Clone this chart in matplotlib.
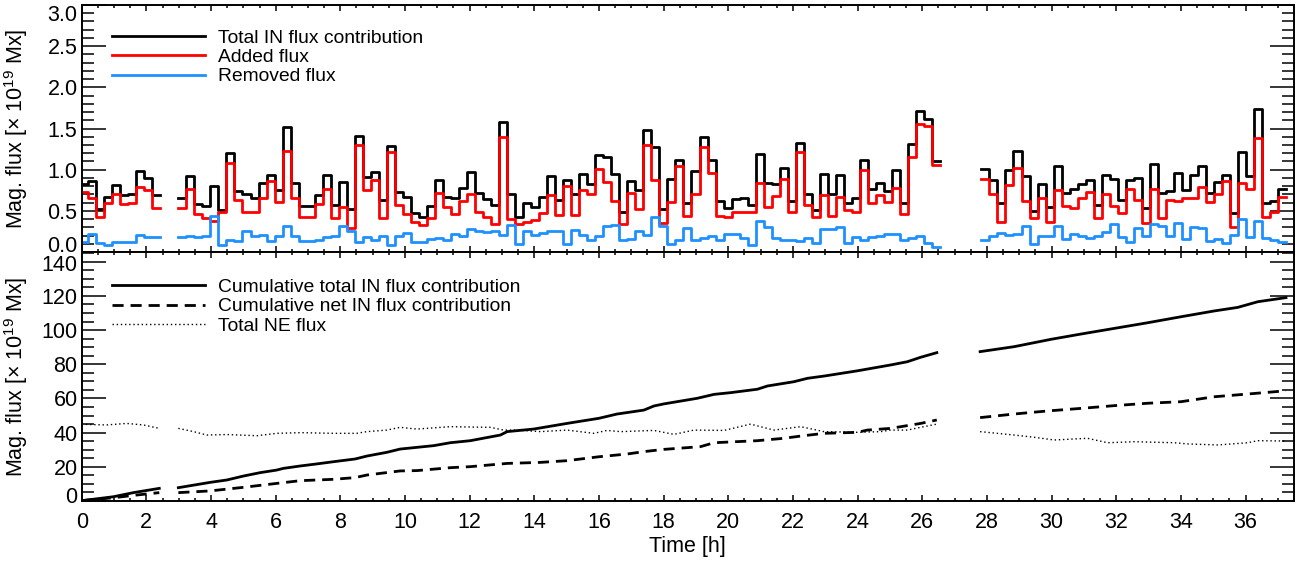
import numpy as np
import matplotlib.pyplot as plt
from matplotlib.ticker import MultipleLocator
from matplotlib.transforms import ScaledTranslation

plt.rcParams['font.family'] = ['Liberation Sans', 'DejaVu Sans']
plt.rcParams['mathtext.fontset'] = 'custom'
plt.rcParams['mathtext.rm'] = 'Liberation Sans'
plt.rcParams['mathtext.it'] = 'Liberation Sans'

# ---- top panel: flux per time bin (x 1e19 Mx), three observing segments ----
dt = 0.248                      # bin width [h]
seg_start = [-0.06, 2.99, 27.83]

total_1 = [0.83, 0.86, 0.52, 0.67, 0.81, 0.69, 0.71, 0.98, 0.90, 0.69]
added_1 = [0.73, 0.66, 0.42, 0.59, 0.71, 0.58, 0.59, 0.79, 0.75, 0.53]
removed_1 = [0.12, 0.22, 0.11, 0.09, 0.12, 0.12, 0.12, 0.21, 0.18, 0.18]

total_2 = [0.66, 0.92, 0.58, 0.56, 0.80, 0.51, 1.20, 0.74, 0.70, 0.65, 0.84, 0.94, 0.75, 1.52,
           0.84, 0.56, 0.56, 0.69, 0.93, 0.57, 0.85, 0.52, 1.41, 0.91, 0.97, 0.63, 1.29, 0.73,
           0.67, 0.47, 0.43, 0.56, 0.88, 0.67, 0.66, 0.78, 0.97, 0.72, 0.64, 0.57, 1.58, 0.71,
           0.43, 0.60, 0.55, 0.67, 0.92, 0.63, 0.88, 0.70, 0.95, 0.83, 1.18, 1.15, 0.95, 0.48,
           0.86, 0.75, 1.48, 1.27, 0.52, 0.89, 1.12, 0.59, 0.98, 1.40, 1.12, 0.62, 0.54, 0.64,
           0.65, 0.57, 1.19, 0.84, 0.83, 1.02, 0.62, 1.32, 0.71, 0.51, 0.95, 0.70, 0.94, 0.60,
           0.65, 1.12, 0.76, 0.84, 0.74, 0.99, 0.60, 1.31, 1.71, 1.61, 1.11]
added_2 = [0.53, 0.77, 0.46, 0.41, 0.38, 0.49, 1.08, 0.63, 0.48, 0.49, 0.65, 0.86, 0.61, 1.23,
           0.65, 0.43, 0.43, 0.58, 0.77, 0.41, 0.55, 0.29, 1.30, 0.75, 0.87, 0.41, 1.21, 0.57,
           0.46, 0.36, 0.33, 0.41, 0.72, 0.55, 0.46, 0.62, 0.71, 0.48, 0.43, 0.34, 1.40, 0.40,
           0.34, 0.36, 0.39, 0.47, 0.69, 0.45, 0.80, 0.45, 0.75, 0.70, 1.01, 0.85, 0.62, 0.34,
           0.72, 0.52, 1.30, 0.88, 0.35, 0.61, 1.04, 0.44, 0.71, 1.28, 0.96, 0.44, 0.42, 0.48,
           0.48, 0.49, 0.84, 0.55, 0.68, 0.89, 0.49, 1.21, 0.57, 0.42, 0.69, 0.44, 0.67, 0.51,
           0.49, 1.00, 0.59, 0.69, 0.61, 0.78, 0.46, 1.15, 1.55, 1.53, 1.06]
removed_2 = [0.18, 0.19, 0.18, 0.20, 0.44, 0.09, 0.14, 0.13, 0.26, 0.20, 0.21, 0.13, 0.20, 0.31,
             0.19, 0.13, 0.13, 0.15, 0.18, 0.20, 0.32, 0.25, 0.12, 0.18, 0.15, 0.19, 0.09, 0.20,
             0.23, 0.12, 0.12, 0.16, 0.17, 0.14, 0.22, 0.19, 0.28, 0.26, 0.24, 0.25, 0.21, 0.33,
             0.10, 0.26, 0.21, 0.23, 0.25, 0.25, 0.10, 0.27, 0.21, 0.15, 0.19, 0.32, 0.33, 0.15,
             0.16, 0.25, 0.21, 0.42, 0.31, 0.10, 0.15, 0.29, 0.14, 0.17, 0.19, 0.14, 0.22, 0.22,
             0.17, 0.09, 0.38, 0.30, 0.17, 0.15, 0.15, 0.13, 0.17, 0.11, 0.28, 0.28, 0.30, 0.11,
             0.18, 0.14, 0.18, 0.19, 0.22, 0.22, 0.15, 0.17, 0.19, 0.11, 0.06]

total_3 = [1.01, 0.88, 0.59, 1.00, 1.23, 0.92, 0.50, 0.82, 0.55, 1.04, 0.72, 0.76, 0.83, 0.88,
           0.57, 0.94, 0.89, 0.63, 0.87, 0.90, 0.54, 1.07, 0.72, 0.74, 0.96, 0.75, 0.94, 1.05,
           0.72, 0.85, 0.94, 0.47, 1.22, 0.92, 1.74, 0.59, 0.62, 0.77]
added_3 = [0.89, 0.71, 0.37, 0.81, 1.02, 0.62, 0.41, 0.65, 0.37, 0.75, 0.56, 0.54, 0.66, 0.73,
           0.41, 0.71, 0.56, 0.47, 0.76, 0.63, 0.35, 0.76, 0.41, 0.63, 0.62, 0.65, 0.66, 0.79,
           0.61, 0.70, 0.86, 0.30, 0.84, 0.76, 1.38, 0.43, 0.49, 0.67]
removed_3 = [0.14, 0.19, 0.23, 0.21, 0.22, 0.32, 0.10, 0.19, 0.19, 0.32, 0.16, 0.22, 0.19, 0.17,
             0.19, 0.24, 0.34, 0.18, 0.12, 0.29, 0.20, 0.34, 0.32, 0.20, 0.35, 0.16, 0.30, 0.29,
             0.13, 0.16, 0.11, 0.21, 0.40, 0.18, 0.38, 0.17, 0.14, 0.12]

# ---- bottom panel: cumulative curves (x 1e19 Mx), read at sample times [h] ----
cum_total_t = [[0.0, 0.98, 1.60, 2.40],
               [2.99, 3.97, 4.49, 5.00, 5.52, 6.03, 6.24, 6.76, 7.27, 7.79, 8.46, 8.82, 9.44,
                9.85, 10.37, 10.89, 11.40, 12.02, 12.95, 13.16, 13.98, 15.01, 16.00, 16.56,
                17.39, 17.70, 18.00, 19.04, 19.56, 20.07, 20.90, 21.21, 22.03, 22.45, 22.96,
                24.00, 25.02, 25.54, 25.95, 26.45],
               [27.79, 28.84, 29.98, 30.91, 31.94, 32.97, 34.00, 35.03, 35.76, 36.38, 37.25]]
cum_total_v = [[0.2, 2.5, 4.9, 7.4],
               [7.8, 10.9, 12.3, 14.6, 16.6, 18.1, 19.1, 20.5, 21.7, 23.0, 24.6, 26.3, 28.5,
                30.4, 31.4, 32.4, 34.1, 35.3, 38.6, 40.6, 42.1, 45.4, 48.4, 50.9,
                53.2, 55.6, 56.8, 60.1, 62.4, 63.4, 65.4, 67.3, 69.8, 71.8, 73.1,
                76.2, 79.6, 81.5, 84.1, 86.8],
               [87.4, 90.3, 94.6, 97.7, 101.0, 104.3, 107.8, 111.2, 113.3, 116.6, 119.0]]

cum_net_t = [[0.0, 0.98, 1.60, 2.40],
             [2.99, 3.97, 5.00, 6.03, 6.76, 7.79, 8.46, 8.82, 9.85, 10.37, 11.40, 12.02, 13.16,
              14.19, 15.01, 16.00, 16.87, 17.39, 18.00, 19.14, 19.56, 20.90, 21.72, 22.24,
              22.96, 24.00, 24.30, 25.02, 25.34, 25.95, 26.45],
             [27.79, 28.84, 29.88, 30.91, 31.94, 32.97, 34.00, 35.03, 36.07, 37.25]]
cum_net_v = [[0.2, 1.9, 3.3, 4.9],
             [4.9, 5.9, 8.0, 10.3, 11.9, 12.7, 13.7, 15.2, 17.6, 17.8, 19.5, 20.1, 22.0,
              22.6, 23.6, 25.9, 27.5, 28.9, 30.2, 31.8, 34.1, 35.3, 36.7, 38.0,
              39.6, 40.2, 41.5, 42.5, 43.5, 45.4, 47.4],
             [48.8, 50.9, 52.7, 54.2, 55.8, 57.2, 58.1, 61.0, 62.6, 64.5]]

ne_t = [[0.0, 0.77, 1.39, 1.91, 2.40],
        [2.99, 3.46, 3.87, 4.49, 5.42, 6.03, 6.76, 7.79, 8.51, 8.82, 9.44, 9.85, 10.37, 11.40,
         12.64, 13.05, 13.47, 14.19, 15.01, 15.84, 16.25, 16.67, 17.70, 18.32, 18.94, 19.87,
         20.69, 21.41, 22.24, 22.96, 24.00, 24.72, 25.02, 25.54, 26.05, 26.45],
        [27.79, 28.84, 29.46, 30.08, 31.11, 31.73, 32.56, 33.80, 34.21, 35.14, 36.07, 36.38,
         37.25]]
ne_v = [[44.9, 44.5, 45.4, 44.5, 42.5],
        [42.5, 40.6, 38.6, 38.9, 38.2, 39.6, 40.0, 39.6, 39.6, 40.6, 41.5, 43.1, 42.1, 43.5,
         43.1, 41.5, 41.5, 40.6, 41.5, 39.6, 41.3, 40.6, 41.3, 39.0, 41.5, 41.3,
         45.0, 41.5, 43.5, 40.6, 40.2, 40.6, 41.5, 41.5, 43.5, 45.0],
        [40.6, 38.6, 37.3, 35.7, 36.7, 34.1, 34.7, 34.1, 33.4, 32.8, 34.1, 35.3, 35.1]]

blue = '#1e90ff'
fs = 15.5

fig = plt.figure(figsize=(13.05, 5.63), dpi=100)
ax1 = fig.add_axes([0.0626, 0.5524, 0.929, 0.4387])
ax2 = fig.add_axes([0.0626, 0.1101, 0.929, 0.4423])

segments = [(total_1, added_1, removed_1), (total_2, added_2, removed_2),
            (total_3, added_3, removed_3)]
for k, (tot, add, rem) in enumerate(segments):
    edges = seg_start[k] + dt * np.arange(len(tot) + 1)
    lab = k == 0
    ax1.plot(edges, tot + tot[-1:], drawstyle='steps-post', color='black', lw=2,
             label='Total IN flux contribution' if lab else None)
    ax1.plot(edges, add + add[-1:], drawstyle='steps-post', color='red', lw=2,
             label='Added flux' if lab else None)
    ax1.plot(edges, rem + rem[-1:], drawstyle='steps-post', color=blue, lw=2,
             label='Removed flux' if lab else None)

for k in range(3):
    lab = k == 0
    ax2.plot(cum_total_t[k], cum_total_v[k], color='black', lw=2,
             label='Cumulative total IN flux contribution' if lab else None)
    ax2.plot(cum_net_t[k], cum_net_v[k], color='black', lw=2, ls=(0, (4, 2.5)),
             label='Cumulative net IN flux contribution' if lab else None)
    ax2.plot(ne_t[k], ne_v[k], color='black', lw=1, ls=(0, (1, 2)),
             label='Total NE flux' if lab else None)

ylabel = 'Mag. flux [\u00d7 10$^{19}$ Mx]'
for ax, ytop in ((ax1, 0.901), (ax2, 0.893)):
    ax.set_xlim(0, 37.5)
    ax.xaxis.set_major_locator(MultipleLocator(2))
    ax.xaxis.set_minor_locator(MultipleLocator(0.5))
    ax.tick_params(which='both', direction='in', top=True, right=True, width=1.1,
                   labelsize=fs)
    ax.tick_params(axis='x', which='major', length=4)
    ax.tick_params(axis='x', which='minor', length=2.3)
    ax.tick_params(axis='y', which='major', length=17, pad=3)
    ax.tick_params(axis='y', which='minor', length=8.5)
    ax.tick_params(axis='x', pad=8)
    for s in ax.spines.values():
        s.set_linewidth(1.4)
    ax.set_ylabel(ylabel, fontsize=fs)
    ax.yaxis.set_label_coords(-0.0425, 0.5)
    ax.legend(loc='upper left', bbox_to_anchor=(0.025, ytop), frameon=False,
              fontsize=13.9, handlelength=4.8, handletextpad=0.68, labelspacing=0.09,
              borderpad=0, borderaxespad=0)

ax1.set_ylim(0, 3.0)
ax1.set_yticks(np.arange(0, 3.01, 0.5), ['%.1f' % v for v in np.arange(0, 3.01, 0.5)])
ax1.yaxis.set_minor_locator(MultipleLocator(0.1))
ax1.tick_params(axis='x', labelbottom=False)

ax2.set_ylim(0, 145.7)
ax2.set_yticks(np.arange(0, 141, 20), [str(v) for v in range(0, 141, 20)])
ax2.yaxis.set_minor_locator(MultipleLocator(5))
ax2.set_xlabel('Time [h]', fontsize=fs, labelpad=2)

# nudge the end labels inside the frame, as in the original
def nudge(label, pts):
    label.set_transform(label.get_transform() +
                        ScaledTranslation(0, pts / 72, fig.dpi_scale_trans))

labs1 = ax1.get_yticklabels()
labs2 = ax2.get_yticklabels()
nudge(labs1[0], 5.6)
nudge(labs1[-1], -5.8)
nudge(labs2[0], 4.3)
nudge(labs2[-1], -1.2)

fig.savefig('out.png', dpi=100)
